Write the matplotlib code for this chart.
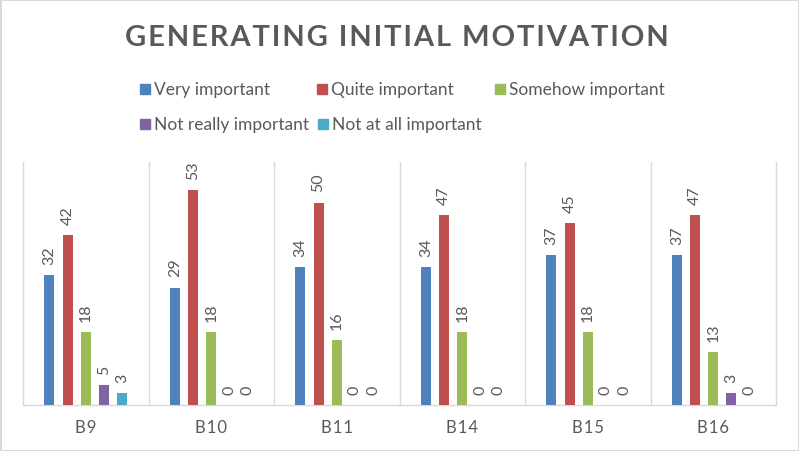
import matplotlib
matplotlib.use('Agg')
import numpy as np
import matplotlib.pyplot as plt
from matplotlib.patches import Rectangle

# Data
categories = ['B9', 'B10', 'B11', 'B14', 'B15', 'B16']
series_names = ['Very important', 'Quite important', 'Somehow important',
                'Not really important', 'Not at all important']
very_important = [32, 29, 34, 34, 37, 37]
quite_important = [42, 53, 50, 47, 45, 47]
somehow_important = [18, 18, 16, 18, 18, 13]
not_really_important = [5, 0, 0, 0, 0, 3]
not_at_all_important = [3, 0, 0, 0, 0, 0]

series = [very_important, quite_important, somehow_important,
          not_really_important, not_at_all_important]
colors = ['#4f81bd', '#c0504d', '#9bbb59', '#8064a2', '#4bacc6']
text_col = '#595959'
grid_col = '#d9d9d9'
font = ['Lato', 'DejaVu Sans']

W, H = 799, 452
fig = plt.figure(figsize=(W / 100, H / 100), dpi=100)
fig.patch.set_facecolor('white')
fig.patch.set_edgecolor(grid_col)
fig.patch.set_linewidth(2)

# plot area in pixels: x 23..776, y 163..406
ax = fig.add_axes([23 / W, (H - 406) / H, (776 - 23) / W, (406 - 163) / H])

x = np.arange(len(categories))
step = 0.145
width = 0.08
for i, (vals, c) in enumerate(zip(series, colors)):
    pos = x + (i - 2) * step
    bars = ax.bar(pos, vals, width=width, color=c, zorder=3)
    for b, v in zip(bars, vals):
        ax.annotate(str(v), (b.get_x() + b.get_width() / 2, v),
                    xytext=(0, 8), textcoords='offset points',
                    rotation=90, ha='center', va='bottom',
                    fontsize=11.5, color=text_col, family=font)

ax.set_xlim(-0.5, len(categories) - 0.5)
ax.set_ylim(0, 60)
ax.set_yticks([])
ax.set_xticks(x)
ax.set_xticklabels(['\u200a'.join(c) for c in categories], fontsize=12,
                   color=text_col, family=font)
ax.tick_params(axis='x', length=0, pad=10)
for b in np.arange(0.5, len(categories) - 0.5):
    ax.axvline(b, color=grid_col, lw=1, zorder=1)
ax.spines['top'].set_visible(False)
for s in ['left', 'right', 'bottom']:
    ax.spines[s].set_color(grid_col)
    ax.spines[s].set_linewidth(1)

# title, letter spaced
title = 'GENERATING INITIAL MOTIVATION'
fig.text(397 / W, 1 - 38 / H, '\u200a'.join(title), ha='center', va='center',
         fontsize=21, fontweight='bold', color=text_col, family=font)

# legend laid out like the original (two rows)
legend_pos = [(140, 90), (317, 90), (495, 90), (140, 125), (318, 125)]
for (px, py), name, c in zip(legend_pos, series_names, colors):
    fig.add_artist(Rectangle((px / W, 1 - (py + 5) / H), 10 / W, 10 / H,
                             transform=fig.transFigure, color=c))
    fig.text((px + 14) / W, 1 - py / H, name, ha='left', va='center',
             fontsize=12.5, color=text_col, family=font)

fig.savefig('out.png', dpi=100)
